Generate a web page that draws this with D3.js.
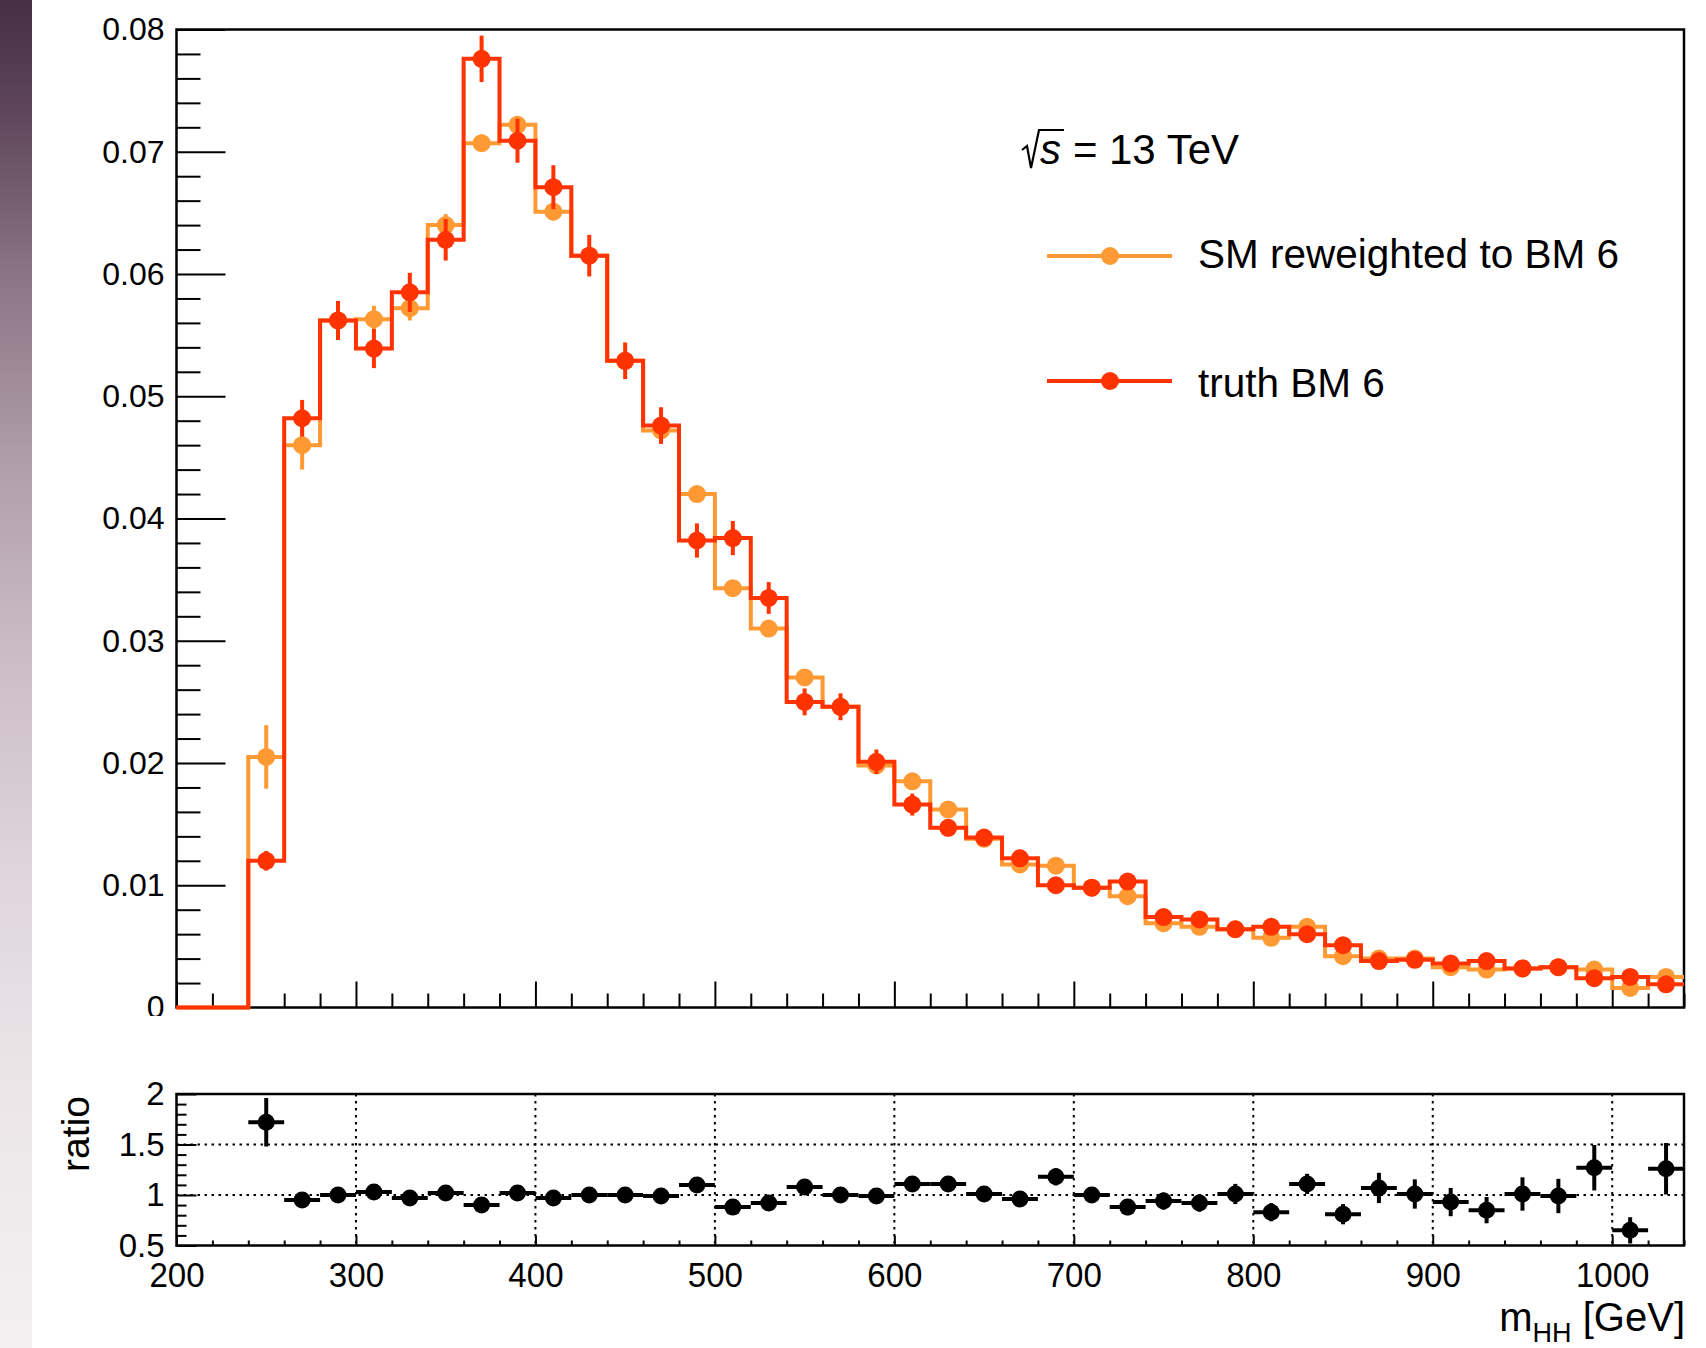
<!DOCTYPE html>
<html>
<head>
<meta charset="utf-8">
<script src="https://cdn.jsdelivr.net/npm/d3@7"></script>
<style>
  html, body { margin: 0; padding: 0; background: #fff; }
  svg { display: block; font-family: "Liberation Sans", Arial, Helvetica, sans-serif; }
</style>
</head>
<body>
<svg id="chart" width="1706" height="1348"></svg>
<script>
// ---- data: m_HH histograms, 20 GeV bins from 200 to 1040 GeV ----
const binCenters = [210, 230, 250, 270, 290, 310, 330, 350, 370, 390,
                    410, 430, 450, 470, 490, 510, 530, 550, 570, 590,
                    610, 630, 650, 670, 690, 710, 730, 750, 770, 790,
                    810, 830, 850, 870, 890, 910, 930, 950, 970, 990,
                    1010, 1030];

const smReweighted = [0, 0, 0.0205, 0.0460, 0.0562, 0.0563, 0.0572, 0.0640, 0.0707, 0.0722,
                      0.0651, 0.0615, 0.0529, 0.0472, 0.0420, 0.0343, 0.0310, 0.0270, 0.0246, 0.0198,
                      0.0185, 0.0162, 0.0138, 0.0117, 0.0116, 0.0098, 0.0091, 0.0069, 0.0066, 0.0064,
                      0.0057, 0.0066, 0.0042, 0.0040, 0.0040, 0.0033, 0.0031, 0.0032, 0.0033, 0.0031,
                      0.0016, 0.0025];
const smErr = [0, 0, 0.0026, 0.0020, 0.0013, 0.0011, 0.0010, 0.0009, 0.0007, 0.0007,
               0.0007, 0.0006, 0.0006, 0.0006, 0.0006, 0.0005, 0.0005, 0.0005, 0.0005, 0.0004,
               0.0004, 0.0004, 0.0004, 0.0003, 0.0003, 0.0003, 0.0003, 0.0003, 0.0003, 0.0003,
               0.0003, 0.0003, 0.0003, 0.0003, 0.0003, 0.0003, 0.0003, 0.0003, 0.0003, 0.0003,
               0.0003, 0.0003];

const truth = [0, 0, 0.0120, 0.0482, 0.0562, 0.0539, 0.0585, 0.0628, 0.0776, 0.0709,
               0.0671, 0.0615, 0.0529, 0.0476, 0.0382, 0.0384, 0.0335, 0.0250, 0.0246, 0.0201,
               0.0166, 0.0147, 0.0139, 0.0122, 0.0100, 0.0098, 0.0103, 0.0074, 0.0072, 0.0064,
               0.0066, 0.0060, 0.0051, 0.0038, 0.0039, 0.0036, 0.0038, 0.0032, 0.0033, 0.0024,
               0.0025, 0.0019];
const truthErr = [0, 0, 0.0008, 0.0015, 0.0016, 0.0016, 0.0016, 0.0017, 0.0019, 0.0018,
                  0.0018, 0.0017, 0.0015, 0.0015, 0.0014, 0.0014, 0.0013, 0.0011, 0.0011, 0.0010,
                  0.0009, 0.0007, 0.0007, 0.0007, 0.0006, 0.0006, 0.0006, 0.0005, 0.0005, 0.0005,
                  0.0005, 0.0005, 0.0004, 0.0004, 0.0004, 0.0004, 0.0004, 0.0003, 0.0003, 0.0003,
                  0.0003, 0.0003];

// ratio SM reweighted / truth, bins 240-1040
const ratioBins = [250, 270, 290, 310, 330, 350, 370, 390, 410, 430,
                   450, 470, 490, 510, 530, 550, 570, 590, 610, 630,
                   650, 670, 690, 710, 730, 750, 770, 790, 810, 830,
                   850, 870, 890, 910, 930, 950, 970, 990, 1010, 1030];
const ratio = [1.72, 0.95, 1.00, 1.03, 0.97, 1.02, 0.90, 1.02, 0.97, 1.00,
               1.00, 0.99, 1.10, 0.88, 0.92, 1.08, 1.00, 0.99, 1.11, 1.11,
               1.01, 0.96, 1.18, 1.00, 0.88, 0.94, 0.92, 1.01, 0.83, 1.11,
               0.81, 1.07, 1.01, 0.93, 0.85, 1.01, 0.99, 1.27, 0.65, 1.26];
const ratioErr = [0.24, 0.045, 0.04, 0.04, 0.04, 0.04, 0.04, 0.04, 0.04, 0.04,
                  0.045, 0.045, 0.05, 0.05, 0.05, 0.055, 0.055, 0.06, 0.065, 0.07,
                  0.07, 0.075, 0.085, 0.08, 0.08, 0.085, 0.085, 0.10, 0.09, 0.10,
                  0.10, 0.15, 0.145, 0.14, 0.13, 0.165, 0.17, 0.225, 0.13, 0.255];

const binWidth = 20;

// tick labels
const mainYTicks = [0, 0.01, 0.02, 0.03, 0.04, 0.05, 0.06, 0.07, 0.08];
const mainYLabels = ["0", "0.01", "0.02", "0.03", "0.04", "0.05", "0.06", "0.07", "0.08"];
const xMajorTicks = [200, 300, 400, 500, 600, 700, 800, 900, 1000];
const xMajorLabels = ["200", "300", "400", "500", "600", "700", "800", "900", "1000"];
const ratioYTicks = [0.5, 1, 1.5, 2];
const ratioYLabels = ["0.5", "1", "1.5", "2"];

const seriesNames = ["SM reweighted to BM 6", "truth BM 6"];
const seriesColors = ["#ff9933", "#ff3300"];

// ---- layout ----
const L = 176.5, R = 1684;
const mainTop = 29.5, mainBottom = 1007.5;
const ratioTop = 1094, ratioBottom = 1245.5;

const svg = d3.select("#chart");

// background and the shaded strip at the left edge
const defs = svg.append("defs");
const grad = defs.append("linearGradient").attr("id", "strip")
  .attr("x1", 0).attr("y1", 0).attr("x2", 0).attr("y2", 1);
[[0, "#463044"], [0.08, "#5e4559"], [0.2, "#8a7385"], [0.35, "#b2a0ad"],
 [0.5, "#cdbfc8"], [0.65, "#dfd5db"], [0.8, "#ebe5e8"], [1, "#f3f0f2"]]
  .forEach(([o, c]) => grad.append("stop").attr("offset", o).attr("stop-color", c));
svg.append("rect").attr("width", 1706).attr("height", 1348).attr("fill", "#fff");
svg.append("rect").attr("x", 0).attr("y", 0).attr("width", 32).attr("height", 1348).attr("fill", "url(#strip)");

defs.append("clipPath").attr("id", "mainPad")
  .append("rect").attr("x", 0).attr("y", 0).attr("width", 1706).attr("height", 1016);

// ---- scales ----
const x = d3.scaleLinear().domain([200, 1040]).range([L, R]);
const yMain = d3.scaleLinear().domain([0, 0.08]).range([mainBottom, mainTop]);
const yRatio = d3.scaleLinear().domain([0.5, 2]).range([ratioBottom, ratioTop]);

const minorX = d3.range(200, 1041, 20).filter(v => v % 100 !== 0);
const minorYMain = d3.range(0, 41).map(i => i * 0.002).filter((v, i) => i % 5 !== 0);
const minorYRatio = d3.range(5, 21).map(i => i / 10).filter((v, i) => i % 5 !== 0);

function styleAxis(g, fontSize) {
  g.select(".domain").remove();
  g.selectAll(".tick line").attr("stroke", "#000").attr("stroke-width", 2);
  g.selectAll(".tick text").attr("fill", "#000")
    .attr("font-family", "'Liberation Sans', Arial, Helvetica, sans-serif")
    .attr("font-size", fontSize);
  g.attr("font-family", null).attr("font-size", null);
}

// ================= main pad =================
const main = svg.append("g").attr("clip-path", "url(#mainPad)");

// y axis: minor + major ticks, pointing inward
main.append("g").attr("transform", `translate(${L},0)`)
  .call(d3.axisLeft(yMain).tickValues(minorYMain).tickSize(-24).tickFormat(""))
  .call(g => styleAxis(g, 32));
main.append("g").attr("transform", `translate(${L},0)`)
  .call(d3.axisLeft(yMain).tickValues(mainYTicks).tickSizeInner(-49).tickSizeOuter(0)
        .tickPadding(12).tickFormat((d, i) => mainYLabels[i]))
  .call(g => styleAxis(g, 32));

// x axis ticks (no labels on the upper pad)
main.append("g").attr("transform", `translate(0,${mainBottom})`)
  .call(d3.axisBottom(x).tickValues(minorX).tickSize(-14).tickFormat(""))
  .call(g => styleAxis(g, 32));
main.append("g").attr("transform", `translate(0,${mainBottom})`)
  .call(d3.axisBottom(x).tickValues(xMajorTicks).tickSize(-26).tickFormat(""))
  .call(g => styleAxis(g, 32));

// frame
main.append("rect").attr("x", L).attr("y", mainTop).attr("width", R - L).attr("height", mainBottom - mainTop)
  .attr("fill", "none").attr("stroke", "#000").attr("stroke-width", 2.5);

const stepLine = d3.line().x(d => x(d[0])).y(d => yMain(d[1])).curve(d3.curveStepAfter);

function drawHist(values, errors, color) {
  const pts = binCenters.map((c, i) => [c - binWidth / 2, values[i]]);
  pts.push([binCenters[binCenters.length - 1] + binWidth / 2, values[values.length - 1]]);
  const g = main.append("g");
  g.append("path").attr("d", stepLine(pts)).attr("fill", "none")
    .attr("stroke", color).attr("stroke-width", 4).attr("stroke-linejoin", "miter");
  const filled = binCenters.map((c, i) => ({ c, v: values[i], e: errors[i] })).filter(d => d.v > 0);
  g.selectAll("line.err").data(filled).join("line").attr("class", "err")
    .attr("x1", d => x(d.c)).attr("x2", d => x(d.c))
    .attr("y1", d => yMain(d.v - d.e)).attr("y2", d => yMain(d.v + d.e))
    .attr("stroke", color).attr("stroke-width", 4);
  g.selectAll("circle").data(filled).join("circle")
    .attr("cx", d => x(d.c)).attr("cy", d => yMain(d.v)).attr("r", 9).attr("fill", color);
}
drawHist(smReweighted, smErr, seriesColors[0]);
drawHist(truth, truthErr, seriesColors[1]);

// sqrt(s) label
const ann = svg.append("g");
ann.append("path").attr("d", "M1022,150 L1027,146 L1031,168 L1039,130 L1064,130")
  .attr("fill", "none").attr("stroke", "#000").attr("stroke-width", 2.2).attr("stroke-linejoin", "miter");
ann.append("text").attr("x", 1040).attr("y", 164).attr("font-size", 42).attr("font-style", "italic").text("s");
ann.append("text").attr("x", 1073).attr("y", 164).attr("font-size", 42).text("=");
ann.append("text").attr("x", 1109).attr("y", 164).attr("font-size", 42).text("13 TeV");

// legend
const legendY = [256, 381];
const legendTextY = [268, 397];
seriesNames.forEach((name, i) => {
  const g = svg.append("g");
  g.append("line").attr("x1", 1047).attr("x2", 1172).attr("y1", legendY[i]).attr("y2", legendY[i])
    .attr("stroke", seriesColors[i]).attr("stroke-width", 4);
  g.append("circle").attr("cx", 1110).attr("cy", legendY[i]).attr("r", 9).attr("fill", seriesColors[i]);
  g.append("text").attr("x", 1198).attr("y", legendTextY[i]).attr("font-size", 40.5).text(name);
});

// ================= ratio pad =================
const rp = svg.append("g");

// dotted grid
rp.selectAll("line.vgrid").data(xMajorTicks.filter(v => v > 200)).join("line").attr("class", "vgrid")
  .attr("x1", d => x(d)).attr("x2", d => x(d)).attr("y1", ratioTop).attr("y2", ratioBottom)
  .attr("stroke", "#000").attr("stroke-width", 2).attr("stroke-dasharray", "2.5 4.5");
rp.selectAll("line.hgrid").data([1, 1.5]).join("line").attr("class", "hgrid")
  .attr("x1", L).attr("x2", R).attr("y1", d => yRatio(d)).attr("y2", d => yRatio(d))
  .attr("stroke", "#000").attr("stroke-width", 2).attr("stroke-dasharray", "2.5 4.5");

// axes
rp.append("g").attr("transform", `translate(${L},0)`)
  .call(d3.axisLeft(yRatio).tickValues(minorYRatio).tickSize(-10).tickFormat(""))
  .call(g => styleAxis(g, 33));
rp.append("g").attr("transform", `translate(${L},0)`)
  .call(d3.axisLeft(yRatio).tickValues(ratioYTicks).tickSizeInner(-20).tickSizeOuter(0)
        .tickPadding(12).tickFormat((d, i) => ratioYLabels[i]))
  .call(g => styleAxis(g, 33));
rp.append("g").attr("transform", `translate(0,${ratioBottom})`)
  .call(d3.axisBottom(x).tickValues(minorX).tickSize(-5).tickFormat(""))
  .call(g => styleAxis(g, 36));
const xAx = rp.append("g").attr("transform", `translate(0,${ratioBottom})`)
  .call(d3.axisBottom(x).tickValues(xMajorTicks).tickSize(-10).tickFormat((d, i) => xMajorLabels[i]))
  .call(g => styleAxis(g, 36));
xAx.selectAll(".tick text").attr("y", 0).attr("dy", 0)
  .attr("transform", "translate(0,41.5) scale(0.92,1)");

rp.append("rect").attr("x", L).attr("y", ratioTop).attr("width", R - L).attr("height", ratioBottom - ratioTop)
  .attr("fill", "none").attr("stroke", "#000").attr("stroke-width", 2.5);

// ratio points
const rData = ratioBins.map((c, i) => ({ c, r: ratio[i], e: ratioErr[i] }));
rp.selectAll("line.rh").data(rData).join("line").attr("class", "rh")
  .attr("x1", d => x(d.c - binWidth / 2)).attr("x2", d => x(d.c + binWidth / 2))
  .attr("y1", d => yRatio(d.r)).attr("y2", d => yRatio(d.r))
  .attr("stroke", "#000").attr("stroke-width", 4);
rp.selectAll("line.rv").data(rData).join("line").attr("class", "rv")
  .attr("x1", d => x(d.c)).attr("x2", d => x(d.c))
  .attr("y1", d => yRatio(d.r - d.e)).attr("y2", d => yRatio(d.r + d.e))
  .attr("stroke", "#000").attr("stroke-width", 4);
rp.selectAll("circle").data(rData).join("circle")
  .attr("cx", d => x(d.c)).attr("cy", d => yRatio(d.r)).attr("r", 8.5).attr("fill", "#000");

// axis titles
svg.append("text").attr("transform", "translate(89,1096) rotate(-90)")
  .attr("text-anchor", "end").attr("font-size", 39).text("ratio");

const xt = svg.append("text").attr("x", 1685).attr("y", 1331).attr("text-anchor", "end").attr("font-size", 40);
xt.append("tspan").text("m");
xt.append("tspan").attr("font-size", 27).attr("dy", 11).text("HH");
xt.append("tspan").attr("dy", -11).text(" [GeV]");
</script>
</body>
</html>
